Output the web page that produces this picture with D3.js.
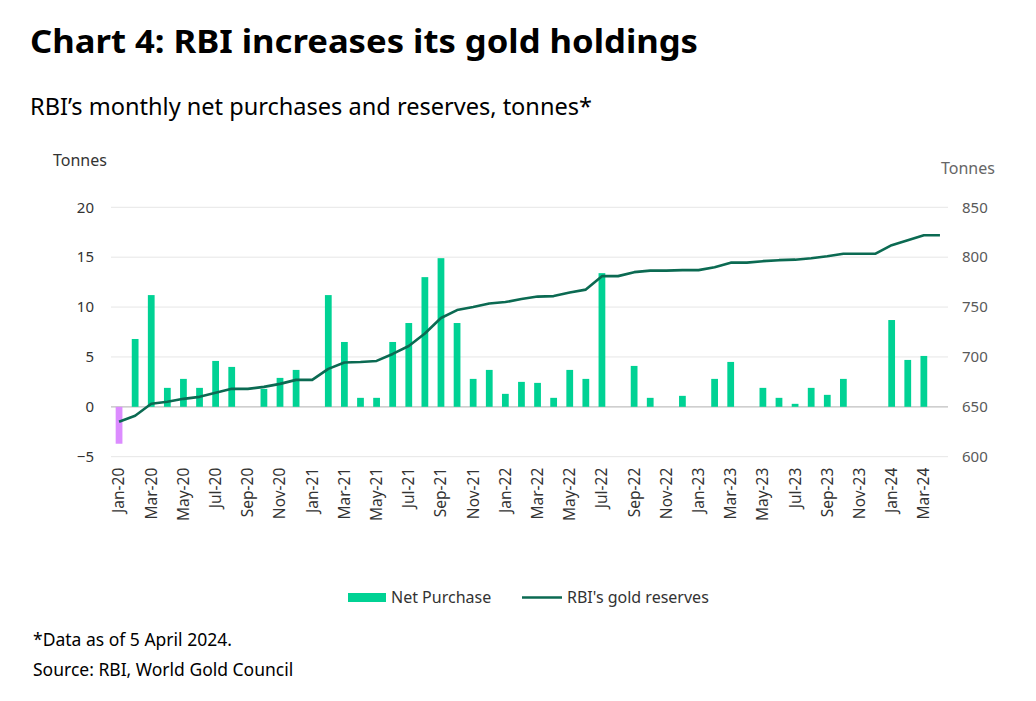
<!DOCTYPE html>
<html>
<head>
<meta charset="utf-8">
<script src="https://cdn.jsdelivr.net/npm/d3@7"></script>
<style>
  html, body { margin: 0; padding: 0; background: #fff; }
  svg text { font-family: "Noto Sans", "Open Sans", sans-serif; }
</style>
</head>
<body>
<svg id="chart" width="1036" height="701"></svg>
<script>
// --- DATA ---

const months = [
  "Jan-20","Feb-20","Mar-20","Apr-20","May-20","Jun-20","Jul-20","Aug-20","Sep-20","Oct-20","Nov-20","Dec-20",
  "Jan-21","Feb-21","Mar-21","Apr-21","May-21","Jun-21","Jul-21","Aug-21","Sep-21","Oct-21","Nov-21","Dec-21",
  "Jan-22","Feb-22","Mar-22","Apr-22","May-22","Jun-22","Jul-22","Aug-22","Sep-22","Oct-22","Nov-22","Dec-22",
  "Jan-23","Feb-23","Mar-23","Apr-23","May-23","Jun-23","Jul-23","Aug-23","Sep-23","Oct-23","Nov-23","Dec-23",
  "Jan-24","Feb-24","Mar-24","Apr-24"
];

// Monthly net purchases, tonnes (Apr-24 has no bar)
const netPurchase = [
  -3.7, 6.8, 11.2, 1.9, 2.8, 1.9, 4.6, 4.0, 0, 1.8, 2.9, 3.7,
  0, 11.2, 6.5, 0.9, 0.9, 6.5, 8.4, 13.0, 14.9, 8.4, 2.8, 3.7,
  1.3, 2.5, 2.4, 0.9, 3.7, 2.8, 13.4, 0, 4.1, 0.9, 0, 1.1,
  0, 2.8, 4.5, 0, 1.9, 0.9, 0.3, 1.9, 1.2, 2.8, 0, 0,
  8.7, 4.7, 5.1, null
];

// RBI gold reserves, tonnes
const reserves = [
  635, 641, 653, 655, 658, 660, 664, 668, 668, 670, 673, 677,
  677, 688, 694.5, 695, 696, 703, 711, 723.5, 739, 747, 750, 753.5,
  755, 758, 760.5, 761, 764.5, 767.5, 781, 781, 785, 786.5, 786.5, 787,
  787, 790, 794.5, 794.5, 796, 797, 797.5, 799, 801, 803.5, 803.5, 803.5,
  812, 817, 822, 822
];

const leftTicks = [-5, 0, 5, 10, 15, 20];
const rightTicks = [600, 650, 700, 750, 800, 850];
const xTickLabels = months.filter((m, i) => i % 2 === 0);

// --- CONFIG ---

const barColor = "#00d294";
const negColor = "#dc8cff";
const lineColor = "#0b6a52";
const plot = { left: 111, right: 948, top: 207.3, bottom: 456.7 };

const svg = d3.select("#chart");

// --- SCALES ---

const x = d3.scaleBand()
    .domain(months)
    .range([plot.left, plot.right])
    .paddingInner(0.58)
    .paddingOuter(0.29);

const yLeft = d3.scaleLinear().domain([-5, 20]).range([plot.bottom, plot.top]);
const yRight = d3.scaleLinear().domain([600, 850]).range([plot.bottom, plot.top]);

// --- TITLES ---

svg.append("text")
    .attr("x", 30).attr("y", 53)
    .style("font-size", "32.5px").style("font-weight", "700").style("fill", "#000")
    .attr("textLength", 668).attr("lengthAdjust", "spacingAndGlyphs")
    .text("Chart 4: RBI increases its gold holdings");

svg.append("text")
    .attr("x", 30).attr("y", 115)
    .style("font-size", "23.5px").style("fill", "#000")
    .attr("textLength", 562).attr("lengthAdjust", "spacingAndGlyphs")
    .text("RBI\u2019s monthly net purchases and reserves, tonnes*");

svg.append("text")
    .attr("x", 53).attr("y", 166)
    .style("font-size", "16px").style("fill", "#333")
    .text("Tonnes");

svg.append("text")
    .attr("x", 941).attr("y", 174)
    .style("font-size", "16px").style("fill", "#666")
    .text("Tonnes");

// --- GRID ---

svg.append("g")
    .selectAll("line")
    .data(leftTicks)
    .join("line")
    .attr("x1", plot.left).attr("x2", plot.right)
    .attr("y1", d => yLeft(d)).attr("y2", d => yLeft(d))
    .style("stroke", d => d === 0 ? "#bfbfbf" : "#e6e6e6")
    .style("stroke-width", d => d === 0 ? 1.3 : 1);

// --- AXES ---

const axisL = svg.append("g")
    .attr("transform", `translate(${plot.left},0)`)
    .call(d3.axisLeft(yLeft).tickValues(leftTicks).tickSize(0).tickPadding(17));
axisL.select(".domain").remove();
axisL.selectAll("text").style("font-size", "15px").style("fill", "#333").style("font-family", "Noto Sans, sans-serif");

const axisR = svg.append("g")
    .attr("transform", `translate(${plot.right},0)`)
    .call(d3.axisRight(yRight).tickValues(rightTicks).tickSize(0).tickPadding(14));
axisR.select(".domain").remove();
axisR.selectAll("text").style("font-size", "15px").style("fill", "#595959").style("font-family", "Noto Sans, sans-serif");

const axisX = svg.append("g")
    .attr("transform", `translate(0,${plot.bottom})`)
    .call(d3.axisBottom(x).tickValues(xTickLabels).tickSize(0));
axisX.select(".domain").remove();
axisX.selectAll("text")
    .attr("transform", "rotate(-90)")
    .attr("text-anchor", "end")
    .attr("x", -11).attr("y", 0).attr("dy", "0.35em")
    .style("font-size", "15.5px").style("fill", "#333").style("font-family", "Noto Sans, sans-serif");

// --- BARS ---

const barData = months.map((m, i) => ({ month: m, value: netPurchase[i] })).filter(d => d.value !== null);

svg.append("g")
    .selectAll("rect")
    .data(barData)
    .join("rect")
    .attr("x", d => x(d.month))
    .attr("width", x.bandwidth())
    .attr("y", d => yLeft(Math.max(0, d.value)))
    .attr("height", d => Math.abs(yLeft(d.value) - yLeft(0)))
    .style("fill", d => d.value < 0 ? negColor : barColor);

// --- LINE ---

const lineData = months.map((m, i) => ({ month: m, value: reserves[i] }));

svg.append("path")
    .datum(lineData)
    .attr("d", d3.line()
        .x(d => x(d.month) + x.bandwidth() / 2)
        .y(d => yRight(d.value)))
    .style("fill", "none")
    .style("stroke", lineColor)
    .style("stroke-width", 2.6)
    .style("stroke-linejoin", "round");

// --- LEGEND ---

const legend = svg.append("g");
legend.append("rect")
    .attr("x", 348).attr("y", 593).attr("width", 38).attr("height", 9)
    .style("fill", barColor);
legend.append("text")
    .attr("x", 391).attr("y", 603)
    .style("font-size", "16px").style("fill", "#333")
    .text("Net Purchase");
legend.append("line")
    .attr("x1", 522).attr("x2", 562).attr("y1", 597.5).attr("y2", 597.5)
    .style("stroke", lineColor).style("stroke-width", 2.6);
legend.append("text")
    .attr("x", 567).attr("y", 603)
    .style("font-size", "16px").style("fill", "#333")
    .text("RBI's gold reserves");

// --- FOOTNOTES ---

svg.append("text")
    .attr("x", 33).attr("y", 646)
    .style("font-size", "17.5px").style("fill", "#000")
    .text("*Data as of 5 April 2024.");

svg.append("text")
    .attr("x", 33).attr("y", 676)
    .style("font-size", "17.5px").style("fill", "#000")
    .text("Source: RBI, World Gold Council");
</script>
</body>
</html>
